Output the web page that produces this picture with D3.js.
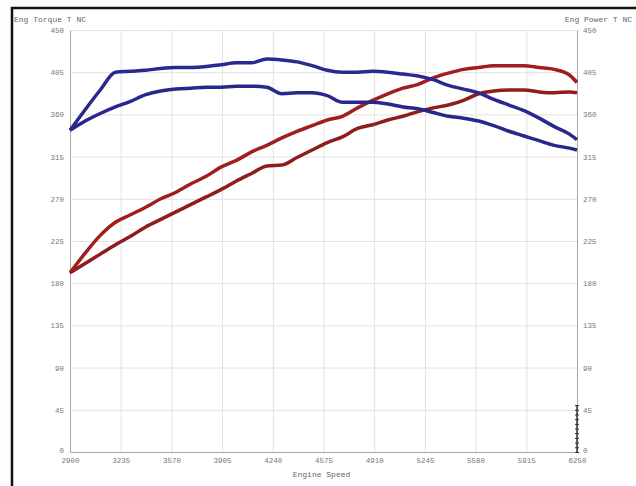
<!DOCTYPE html>
<html>
<head>
<meta charset="utf-8">
<script src="https://cdn.jsdelivr.net/npm/d3@7"></script>
<style>
    body { margin: 0; background: #fdfdfd; }
    #chart-area { width: 636px; height: 486px; }
    .axis text { font-family: "Liberation Mono", "DejaVu Sans Mono", monospace; font-size: 7.5px; fill: #777; }
    .axis path, .axis line { stroke: #aaa; }
    .grid line { stroke: #e2e2e2; }
    .grid path { stroke: none; }
    .axis-text { font-family: "Liberation Mono", "DejaVu Sans Mono", monospace; font-size: 8px; fill: #666; }
</style>
</head>
<body>
<div id="chart-area"></div>
<script>

// engine speed samples (rpm)
let rpm = [2900, 3000, 3100, 3200, 3300, 3400, 3500, 3600, 3700, 3800, 3900, 4000, 4100, 4200,
    4300, 4400, 4500, 4600, 4700, 4800, 4900, 5000, 5100, 5200, 5300, 5400, 5500, 5600, 5700,
    5800, 5900, 6000, 6100, 6200, 6250];

// torque runs (blue)
let torqueHigh = [343, 365, 386, 405, 406, 407, 409, 410, 410, 411, 413, 415, 415, 419,
    418, 416, 412, 407, 405, 405, 406, 405, 403, 401, 397, 391, 387, 383, 376,
    370, 364, 356, 347, 339, 333];
let torqueLow = [343, 353, 361, 368, 374, 381, 385, 387, 388, 389, 389, 390, 390, 389,
    382, 383, 383, 380, 373, 373, 373, 371, 368, 366, 362, 358, 356, 353, 348,
    342, 337, 332, 327, 324, 322];

// power runs (red)
let powerHigh = [191, 212, 231, 245, 253, 261, 270, 277, 286, 294, 304, 311, 320, 327,
    335, 342, 348, 354, 358, 367, 375, 382, 388, 392, 399, 404, 408, 410, 412,
    412, 412, 410, 408, 402, 394];
let powerLow = [191, 201, 211, 221, 230, 240, 248, 256, 264, 272, 280, 289, 297, 305,
    306, 314, 322, 330, 336, 345, 349, 354, 358, 363, 367, 370, 375, 382, 385,
    386, 386, 384, 383, 384, 383];

let rpmTicks = [2900, 3235, 3570, 3905, 4240, 4575, 4910, 5245, 5580, 5915, 6250];
let valueTicks = [0, 45, 90, 135, 180, 225, 270, 315, 360, 405, 450];
let stubTicks = [0, 5, 10, 15, 20, 25, 30, 35, 40, 45, 50];

let leftTitle = "Eng Torque T NC";
let rightTitle = "Eng Power T NC";
let bottomTitle = "Engine Speed";


class DynoChart {

    constructor(_parentElement) {
        this.parentElement = _parentElement;
        this.initVis();
    }

    initVis() {
        let vis = this;

        vis.margin = { top: 30, right: 59, bottom: 34, left: 70 };
        vis.width = 636 - vis.margin.left - vis.margin.right;
        vis.height = 486 - vis.margin.top - vis.margin.bottom;

        vis.root = d3.select("#" + vis.parentElement).append("svg")
            .attr("width", 636)
            .attr("height", 486);

        // picture frame
        vis.root.append("rect")
            .attr("x", 12)
            .attr("y", 8)
            .attr("width", 660)
            .attr("height", 520)
            .style("fill", "white")
            .style("stroke", "#111")
            .style("stroke-width", 2.5);

        vis.svg = vis.root.append("g")
            .attr("transform", "translate(" + vis.margin.left + "," + vis.margin.top + ")");

        vis.x = d3.scaleLinear()
            .domain([2900, 6250])
            .range([0, vis.width]);

        vis.y = d3.scaleLinear()
            .domain([0, 450])
            .range([vis.height, 0]);

        // grid
        vis.svg.append("g")
            .attr("class", "grid")
            .attr("transform", "translate(0," + vis.height + ")")
            .call(d3.axisBottom(vis.x).tickValues(rpmTicks).tickSize(-vis.height).tickFormat(""));
        vis.svg.append("g")
            .attr("class", "grid")
            .call(d3.axisLeft(vis.y).tickValues(valueTicks).tickSize(-vis.width).tickFormat(""));

        // axes
        vis.svg.append("g")
            .attr("class", "x-axis axis")
            .attr("transform", "translate(0," + vis.height + ")")
            .call(d3.axisBottom(vis.x).tickValues(rpmTicks).tickSize(0).tickPadding(6).tickFormat(d3.format("d")));
        vis.svg.append("g")
            .attr("class", "y-axis axis")
            .call(d3.axisLeft(vis.y).tickValues(valueTicks).tickSize(0).tickPadding(6));
        vis.svg.append("g")
            .attr("class", "y-axis-right axis")
            .attr("transform", "translate(" + vis.width + ",0)")
            .call(d3.axisRight(vis.y).tickValues(valueTicks).tickSize(0).tickPadding(6));

        // the zero labels sit a touch higher so they clear the rpm labels
        vis.svg.selectAll(".y-axis text, .y-axis-right text")
            .filter(d => d === 0)
            .attr("dy", "0.1em");

        // little tick stub on the right axis
        vis.svg.append("g")
            .attr("transform", "translate(" + vis.width + ",0)")
            .call(d3.axisRight(vis.y).tickValues(stubTicks).tickSize(2).tickFormat(""))
            .call(g => g.select(".domain").remove())
            .selectAll("line")
            .attr("x1", -2)
            .style("stroke", "#333");
        vis.svg.append("line")
            .attr("x1", vis.width)
            .attr("x2", vis.width)
            .attr("y1", vis.y(0))
            .attr("y2", vis.y(50))
            .style("stroke", "#333")
            .style("stroke-width", 1.5);

        // titles
        vis.root.append("text")
            .attr("class", "axis-text")
            .attr("x", 14)
            .attr("y", 22)
            .text(leftTitle);
        vis.root.append("text")
            .attr("class", "axis-text")
            .attr("x", 632)
            .attr("y", 22)
            .style("text-anchor", "end")
            .text(rightTitle);
        vis.svg.append("text")
            .attr("class", "axis-text")
            .attr("x", vis.width / 2 - 2)
            .attr("y", vis.height + 25)
            .style("text-anchor", "middle")
            .text(bottomTitle);

        vis.line = d3.line()
            .x((d, i) => vis.x(rpm[i]))
            .y(d => vis.y(d))
            .curve(d3.curveMonotoneX);

        vis.series = [
            { values: powerLow, color: "#8e1d1d" },
            { values: powerHigh, color: "#a11e1e" },
            { values: torqueLow, color: "#29278a" },
            { values: torqueHigh, color: "#2b2890" }
        ];

        vis.svg.selectAll(".run")
            .data(vis.series)
            .enter().append("path")
            .attr("class", "run")
            .attr("d", d => vis.line(d.values))
            .style("fill", "none")
            .style("stroke", d => d.color)
            .style("stroke-width", 3.5)
            .style("stroke-linejoin", "round");
    }
}

new DynoChart("chart-area");

</script>
</body>
</html>
